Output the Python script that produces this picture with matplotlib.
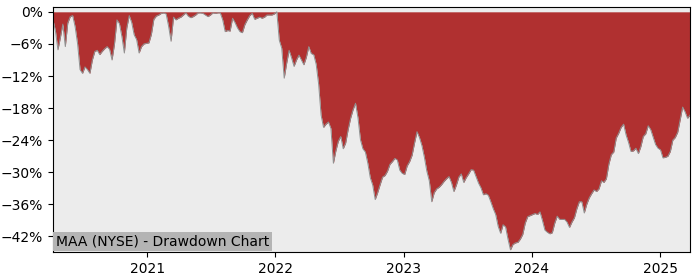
import matplotlib
matplotlib.use("Agg")
import matplotlib.pyplot as plt
import matplotlib.ticker as mticker
import pandas as pd

start_date = "2020-04-08"
drawdown_pct = [
    -1.5, -3.6, -7.1, -4.8, -2.3, -6.5, -2.1, -0.9, -0.7, -2.8,
    -6.0, -10.8, -11.5, -10.3, -10.8, -11.5, -9.0, -7.4, -7.2, -8.0,
    -7.4, -6.9, -6.5, -7.0, -9.0, -6.0, -1.5, -2.2, -4.6, -7.7,
    -3.0, -0.7, -2.0, -4.3, -5.2, -7.7, -6.5, -6.0, -5.9, -5.8,
    -4.2, -1.4, -0.8, -0.6, -0.3, -0.2, -0.4, -2.7, -5.5, -1.0,
    -1.5, -1.2, -1.0, -0.6, -0.2, -0.8, -1.1, -0.9, -0.6, -0.2,
    -0.2, -0.3, -0.6, -0.9, -0.6, -0.2, -0.3, -0.2, -0.2, -1.5,
    -3.7, -3.5, -3.6, -1.2, -2.0, -3.0, -3.7, -3.9, -2.4, -1.5,
    -0.7, -0.3, -1.4, -1.2, -1.0, -1.2, -1.0, -0.6, -0.6, -0.6,
    -0.4, 0.0, -5.3, -6.8, -12.4, -9.6, -7.2, -8.6, -10.2, -9.0,
    -8.1, -9.0, -9.9, -8.5, -6.5, -7.8, -8.0, -9.8, -13.5, -19.3,
    -21.6, -21.0, -20.6, -21.8, -28.3, -26.0, -24.2, -23.3, -25.6, -24.5,
    -22.0, -19.9, -18.3, -17.1, -19.8, -23.9, -25.6, -26.2, -28.3, -31.0,
    -32.4, -35.1, -33.8, -32.3, -30.9, -30.6, -29.8, -28.5, -28.0, -27.4,
    -27.7, -29.6, -30.2, -30.4, -28.8, -28.0, -26.8, -24.5, -22.4, -23.5,
    -25.0, -27.2, -29.8, -31.6, -35.5, -33.8, -33.1, -32.8, -32.3, -31.7,
    -31.2, -30.8, -31.9, -33.6, -32.4, -30.9, -30.3, -31.9, -31.0, -30.3,
    -29.5, -29.6, -30.8, -32.0, -32.9, -34.2, -34.0, -34.3, -35.5, -36.8,
    -37.9, -40.1, -41.4, -39.8, -40.2, -42.5, -44.5, -43.5, -43.2, -43.1,
    -42.5, -41.6, -39.5, -38.3, -38.1, -37.9, -37.7, -37.9, -37.4, -39.0,
    -40.8, -41.2, -41.5, -41.3, -39.5, -38.2, -38.8, -38.8, -38.8, -39.3,
    -40.3, -39.3, -38.5, -36.8, -35.5, -35.5, -37.6, -36.0, -34.8, -34.0,
    -33.3, -33.6, -33.1, -31.6, -31.9, -31.2, -28.5, -26.7, -26.2, -23.6,
    -22.7, -21.6, -21.0, -23.0, -24.4, -26.1, -26.0, -25.5, -26.5, -25.2,
    -23.3, -22.8, -21.3, -22.0, -23.4, -24.8, -25.5, -25.8, -27.3, -27.2,
    -27.0, -26.1, -24.0, -23.5, -22.5, -20.2, -17.8, -18.7, -19.9, -19.3,
]
ytick_values = [0, -6, -12, -18, -24, -30, -36, -42]
xtick_years = ["2021", "2022", "2023", "2024", "2025"]
label_text = "MAA (NYSE) - Drawdown Chart"

dates = pd.date_range(start_date, periods=len(drawdown_pct), freq="7D")

fig = plt.figure(figsize=(7, 2.8), dpi=100)
ax = fig.add_axes([53 / 700, 1 - 252 / 280, (690 - 53) / 700, (252 - 7) / 280])
ax.set_facecolor("#ececec")

ax.fill_between(dates, drawdown_pct, 0, color="#b03030", linewidth=0)
ax.plot(dates, drawdown_pct, color="#909090", linewidth=0.7)

ax.set_xlim(dates[0], dates[-1])
ax.set_ylim(-44.9, 0.9)
ax.set_yticks(ytick_values)
ax.yaxis.set_major_formatter(
    mticker.FuncFormatter(lambda v, p: f"{v:.0f}%".replace("-", "\u2212"))
)
ax.set_xticks([pd.Timestamp(y + "-01-01") for y in xtick_years])
ax.set_xticklabels(xtick_years)
ax.tick_params(labelsize=10)

ax.annotate(label_text, xy=(0, 0), xycoords="axes fraction",
            xytext=(2, 2.5), textcoords="offset points",
            ha="left", va="bottom", fontsize=10,
            bbox=dict(facecolor="#b4b4b4", edgecolor="none", pad=2))

fig.savefig("out.png", dpi=100)
